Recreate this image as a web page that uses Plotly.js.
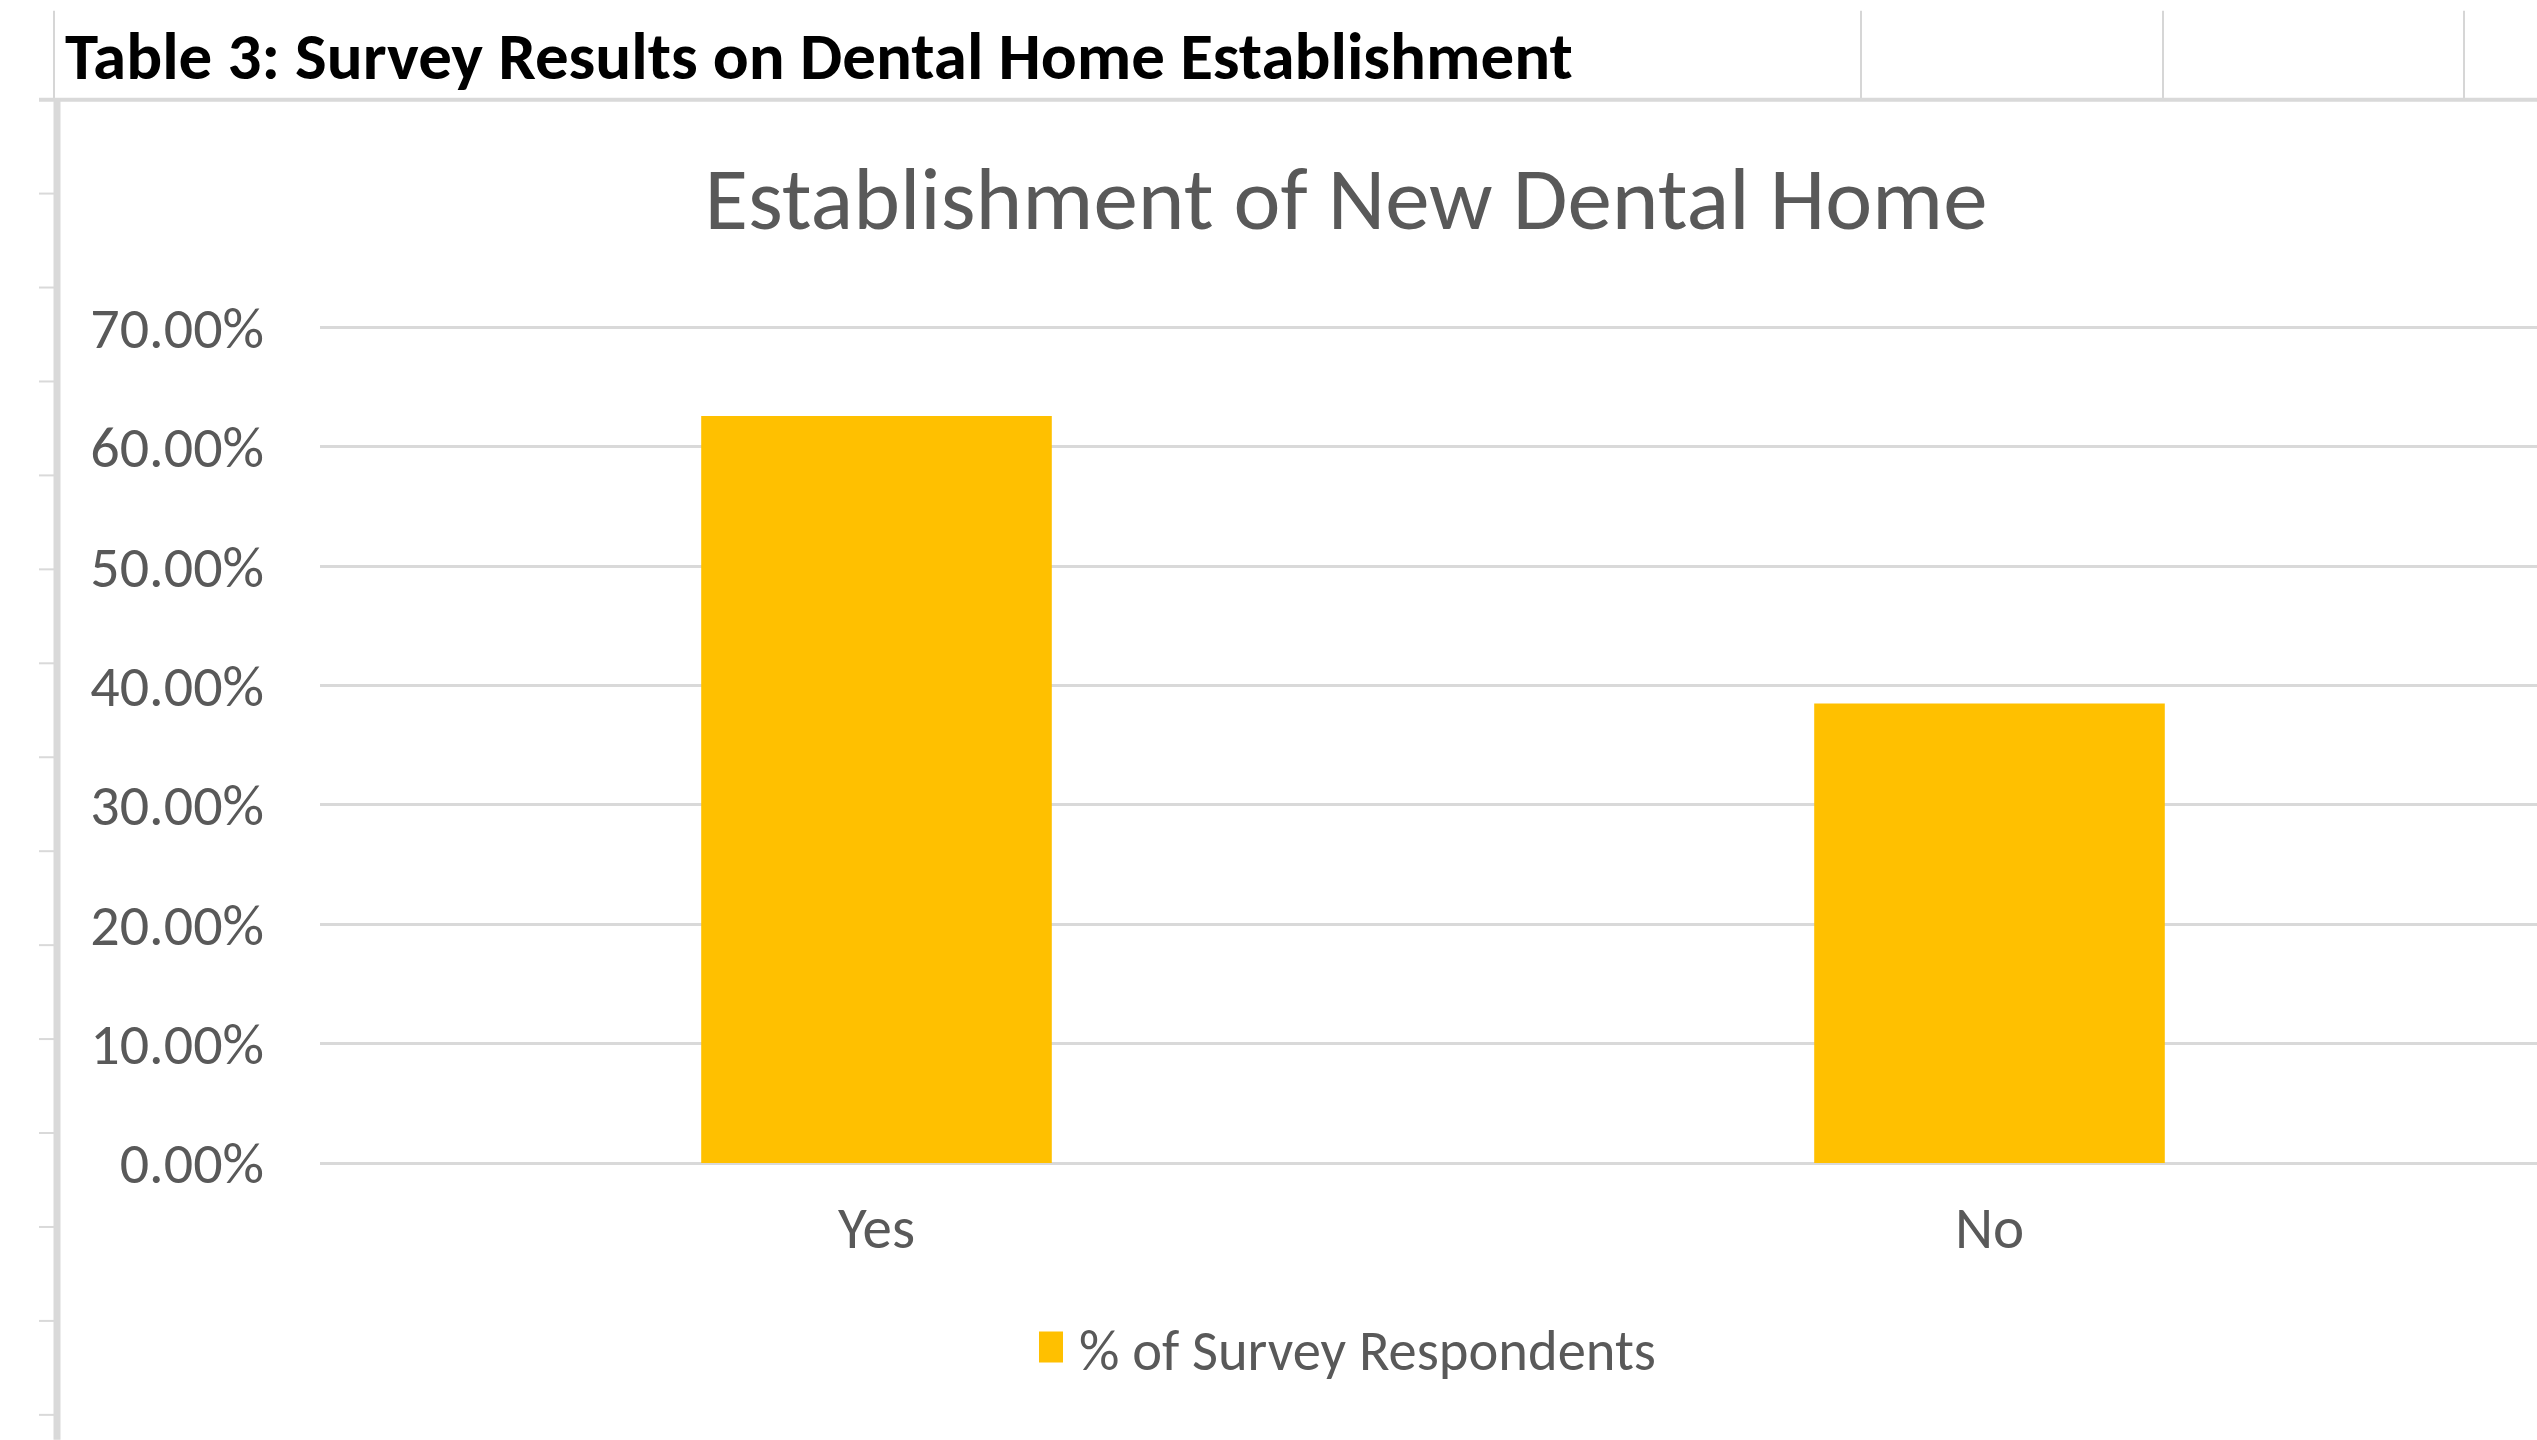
<!DOCTYPE html>
<html>
<head>
<meta charset="utf-8">
<script src="https://cdn.plot.ly/plotly-3.0.1.min.js"></script>
<style>html,body{margin:0;padding:0;background:#fff;}#chart{width:2537px;height:1440px;}</style>
</head>
<body>
<div id="chart"></div>
<script>
// ---- data ----
const categories = ['Yes', 'No'];
const respondentShare = [0.626, 0.385];
const seriesName = '% of Survey Respondents';
const yTickValues = [0, 0.1, 0.2, 0.3, 0.4, 0.5, 0.6, 0.7];
const chartTitle = 'Establishment of New Dental Home';
const sheetTitle = 'Table 3: Survey Results on Dental Home Establishment';

// ---- layout helpers (pixel -> paper) ----
const W = 2537, H = 1440;
const L = 320, R = 2537, T = 323.5, B = 1163;
const px = x => (x - L) / (R - L);
const py = y => (B - y) / (B - T);
const FONT = "Carlito, 'Open Sans', sans-serif";
const GREY = '#595959';
const LINE = '#d9d9d9';

const shapes = [];
function seg(x0, y0, x1, y1, color, width) {
  shapes.push({type: 'line', xref: 'paper', yref: 'paper',
    x0: px(x0), y0: py(y0), x1: px(x1), y1: py(y1),
    line: {color: color, width: width}, layer: 'below'});
}
// spreadsheet decorations
[1861, 2163, 2464].forEach(x => seg(x, 10, x, 99, '#d6d6d6', 2));
seg(54, 10, 54, 99, '#d6d6d6', 2);
seg(39, 99, W, 99, LINE, 4);
seg(57, 99, 57, H, LINE, 7);
for (let y = 99; y < H; y += 94) seg(39, y, 54, y, LINE, 2);

const trace = {
  type: 'bar',
  x: categories,
  y: respondentShare,
  name: seriesName,
  marker: {color: '#FFC000'},
  showlegend: true,
  hoverinfo: 'x+y'
};

const layout = {
  width: W, height: H,
  margin: {l: L, r: W - R, t: T, b: H - B, pad: 0},
  paper_bgcolor: '#ffffff', plot_bgcolor: '#ffffff',
  font: {family: FONT, color: GREY},
  title: {text: chartTitle, xref: 'container', yref: 'container',
    x: 1346 / W, xanchor: 'center', y: 1 - 198 / H, yanchor: 'middle',
    font: {family: FONT, size: 89, color: GREY}},
  bargap: 0.685,
  showlegend: true,
  legend: {orientation: 'h', xref: 'paper', yref: 'paper',
    x: px(1039), xanchor: 'left', y: py(1348), yanchor: 'middle',
    font: {family: FONT, size: 56.5, color: GREY}, itemwidth: 30},
  xaxis: {type: 'category', range: [-0.5, -0.5 + (R - L) / 1113],
    showgrid: false, zeroline: false, showline: false, ticks: '',
    tickfont: {family: FONT, size: 59, color: GREY}, ticklabelstandoff: 25},
  yaxis: {range: [0, 0.703], tickvals: yTickValues, tickformat: '.2%',
    showgrid: true, gridcolor: LINE, gridwidth: 3,
    zeroline: true, zerolinecolor: LINE, zerolinewidth: 3,
    showline: false, ticks: '', ticklabelstandoff: 55,
    tickfont: {family: FONT, size: 58, color: GREY}},
  shapes: shapes,
  annotations: [{text: '<b>' + sheetTitle + '</b>', xref: 'paper', yref: 'paper',
    x: px(63), xanchor: 'left', y: py(55), yanchor: 'middle', showarrow: false,
    font: {family: FONT, size: 67, color: '#000000'}}]
};

Plotly.newPlot('chart', [trace], layout, {displayModeBar: false, staticPlot: true}).then(gd => {
  gd.querySelectorAll('.legendpoints path').forEach(p => {
    p.setAttribute('d', 'M4,15H-24V-16H4Z');
  });
});
</script>
</body>
</html>
